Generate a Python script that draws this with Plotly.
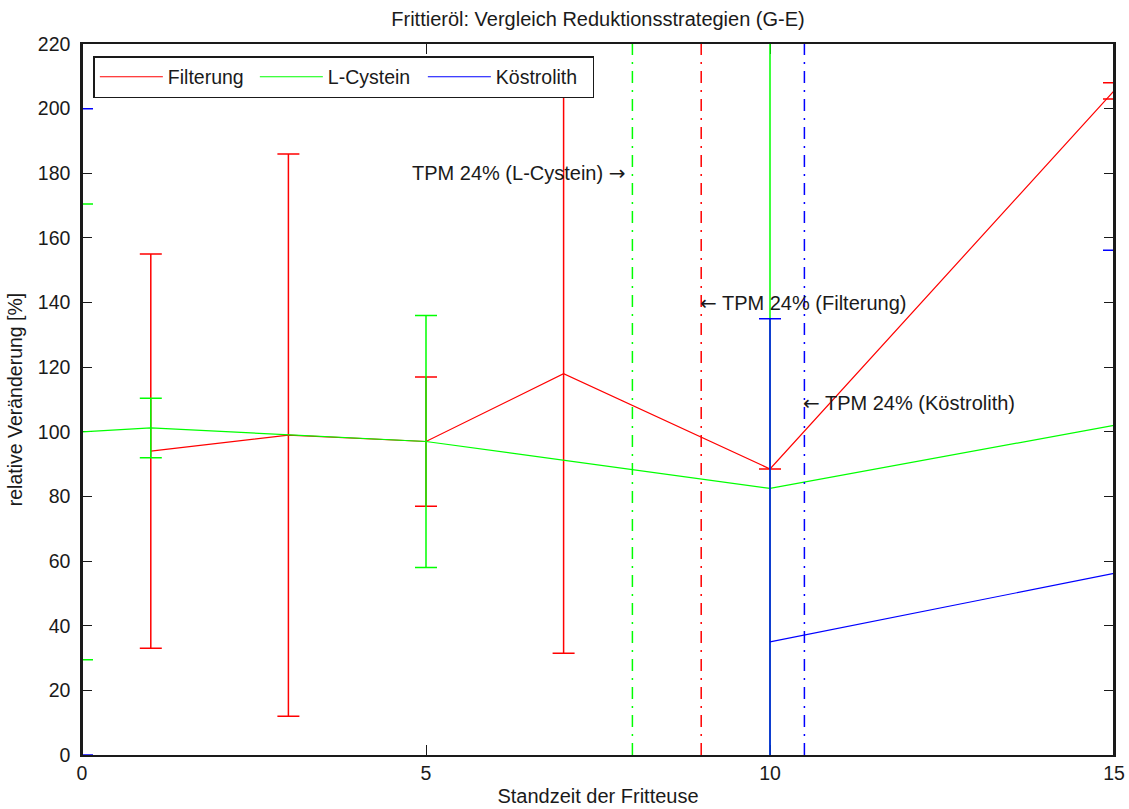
import plotly.graph_objects as go

# ---- data ----
x_filter = [1, 3, 5, 7, 10, 15]
y_filter = [94, 99, 97, 118, 88.5, 205.5]
e_filter = [61, 87, 20, 86.5, 0, 2.5]

x_cys = [0, 1, 5, 10, 15]
y_cys = [100, 101.2, 97, 82.5, 102]
e_cys = [70.5, 9.2, 39, 140, 140]

x_kos = [0, 5, 10, 15]
y_kos = [100, None, 35, 56.2]
e_kos = [100, 0, 100, 100]

tpm_names = ["L-Cystein", "Filterung", "Köstrolith"]
tpm_x = [8, 9, 10.5]
tpm_label_y = [180, 140, 109]
tpm_colors = ["#00ff00", "#ff0000", "#0000ff"]

x_ticks = [0, 5, 10, 15]
y_ticks = list(range(0, 221, 20))

FONT = "Liberation Sans, Arial, sans-serif"
ARROW = '<span style="font-family:DejaVu Sans">{}</span>'
TXT = "#1a1a1a"

fig = go.Figure()

series = [
    ("Filterung", x_filter, y_filter, e_filter, "#ff0000", 82),
    ("L-Cystein", x_cys, y_cys, e_cys, "#00ff00", 90),
    ("Köstrolith", x_kos, y_kos, e_kos, "#0000ff", 92),
]
for name, xs, ys, es, col, lw in series:
    fig.add_trace(go.Scatter(
        x=xs, y=ys, name=name, mode="lines",
        line=dict(color=col, width=1.2),
        connectgaps=False, legendwidth=lw,
        error_y=dict(type="data", array=es, visible=True, color=col,
                     thickness=1.5, width=11),
    ))

for name, xv, col in zip(tpm_names, tpm_x, tpm_colors):
    fig.add_trace(go.Scatter(
        x=[xv, xv], y=[0, 220], mode="lines", showlegend=False,
        line=dict(color=col, width=1.5, dash="12px,7px,2px,7px"),
        hoverinfo="skip",
    ))

# axis-edge frame lines drawn on top (hide error bars lying on the frame)
for xe in (0, 15):
    fig.add_shape(type="line", xref="x", yref="paper", x0=xe, x1=xe, y0=0, y1=1,
                  line=dict(color=TXT, width=2), layer="above")

# annotations
fig.add_annotation(x=tpm_x[0], y=tpm_label_y[0],
                   text="TPM 24% (L-Cystein) " + ARROW.format("→"),
                   showarrow=False, xanchor="right", yanchor="middle", xshift=-5,
                   font=dict(family=FONT, size=20, color=TXT))
fig.add_annotation(x=tpm_x[1], y=tpm_label_y[1],
                   text=ARROW.format("←") + " TPM 24% (Filterung)",
                   showarrow=False, xanchor="left", yanchor="middle", xshift=-3,
                   font=dict(family=FONT, size=20, color=TXT))
fig.add_annotation(x=tpm_x[2], y=tpm_label_y[2],
                   text=ARROW.format("←") + " TPM 24% (Köstrolith)",
                   showarrow=False, xanchor="left", yanchor="middle", xshift=-3,
                   font=dict(family=FONT, size=20, color=TXT))

fig.update_layout(
    width=1129, height=809,
    margin=dict(l=82, r=15, t=44, b=54, pad=0, autoexpand=False),
    paper_bgcolor="white", plot_bgcolor="white",
    font=dict(family=FONT, size=20, color=TXT),
    title=dict(text="Frittieröl: Vergleich Reduktionsstrategien (G-E)",
               x=0.5, xref="paper", xanchor="center",
               y=1 - 19 / 809, yref="container", yanchor="middle",
               font=dict(family=FONT, size=20, color=TXT)),
    showlegend=True,
    legend=dict(orientation="h", x=0.011, y=0.983, xanchor="left", yanchor="top",
                bordercolor=TXT, borderwidth=1.5, bgcolor="white",
                font=dict(family=FONT, size=19.5, color=TXT),
                itemwidth=63, tracegroupgap=0),
    xaxis=dict(range=[0, 15], tickvals=x_ticks, ticks="inside", ticklen=10,
               tickcolor=TXT, showline=True, linecolor=TXT, linewidth=1.5,
               mirror="ticks", showgrid=False, zeroline=False, automargin=False,
               layer="below traces",
               tickfont=dict(family=FONT, size=19.5, color=TXT),
               title=dict(text="Standzeit der Fritteuse", standoff=6,
                          font=dict(family=FONT, size=20, color=TXT))),
    yaxis=dict(range=[0, 220], tickvals=y_ticks, ticks="inside", ticklen=10,
               tickcolor=TXT, showline=True, linecolor=TXT, linewidth=1.5,
               mirror="ticks", showgrid=False, zeroline=False, automargin=False,
               layer="below traces",
               ticklabelstandoff=6,
               tickfont=dict(family=FONT, size=19.5, color=TXT),
               title=dict(text="relative Veränderung [%]", standoff=10,
                          font=dict(family=FONT, size=19.5, color=TXT))),
)

fig.write_html("out.html")
